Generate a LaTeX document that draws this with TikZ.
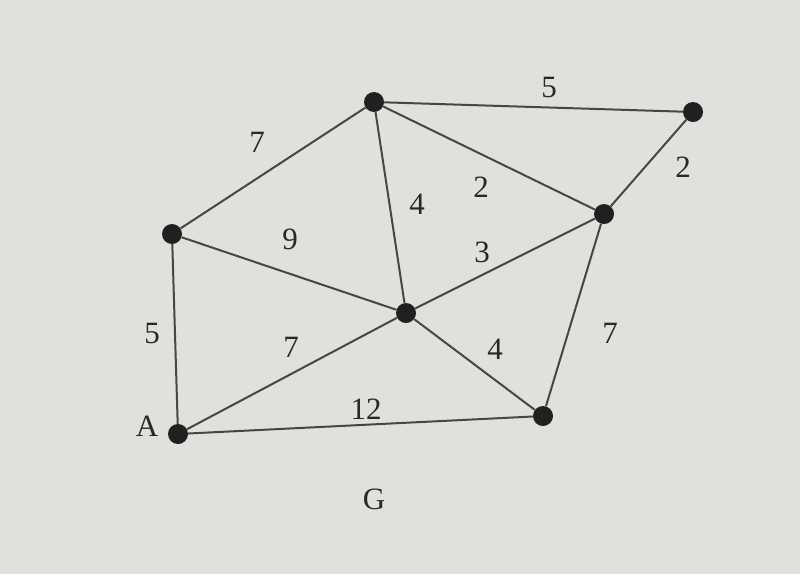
\documentclass[tikz,border=0pt]{standalone}
\usepackage{fontspec}
\setmainfont{Liberation Serif}
\definecolor{paper}{RGB}{225,224,221}
\definecolor{ink}{RGB}{40,40,40}
\definecolor{linecol}{RGB}{70,70,70}
\begin{document}
\begin{tikzpicture}[x=1pt,y=-1pt,
  vtx/.style={circle,fill=ink!80!black,inner sep=0pt,minimum size=20pt},
  edge/.style={draw=linecol,line width=2pt},
  lbl/.style={font=\fontsize{31}{36}\selectfont,text=ink}]
\fill[paper] (0,0) rectangle (800,574);
\useasboundingbox (0,0) rectangle (800,574);
\node[vtx] (A) at (178,434) {};
\node[vtx] (B) at (172,234) {};
\node[vtx] (C) at (374,102) {};
\node[vtx] (D) at (693,112) {};
\node[vtx] (E) at (604,214) {};
\node[vtx] (F) at (406,313) {};
\node[vtx] (H) at (543,416) {};
\path[edge] (A) -- (B);
\path[edge] (B) -- (C);
\path[edge] (C) -- (D);
\path[edge] (D) -- (E);
\path[edge] (C) -- (E);
\path[edge] (C) -- (F);
\path[edge] (B) -- (F);
\path[edge] (E) -- (F);
\path[edge] (A) -- (F);
\path[edge] (F) -- (H);
\path[edge] (E) -- (H);
\path[edge] (A) -- (H);
\node[lbl] (lAB) at (152,333) {5};
\node[lbl] (lBC) at (257,142) {7};
\node[lbl] (lCD) at (549,87) {5};
\node[lbl] (lDE) at (683,167) {2};
\node[lbl] (lCE) at (481,187) {2};
\node[lbl] (lCF) at (417,204) {4};
\node[lbl] (lBF) at (290,239) {9};
\node[lbl] (lEF) at (482,252) {3};
\node[lbl] (lAF) at (291,347) {7};
\node[lbl] (lFH) at (495,349) {4};
\node[lbl] (lEH) at (610,333) {7};
\node[lbl] (lAH) at (366,409) {12};
\node[lbl] (lA) at (147,426) {A};
\node[lbl] (lG) at (374,499) {G};
\end{tikzpicture}
\end{document}
